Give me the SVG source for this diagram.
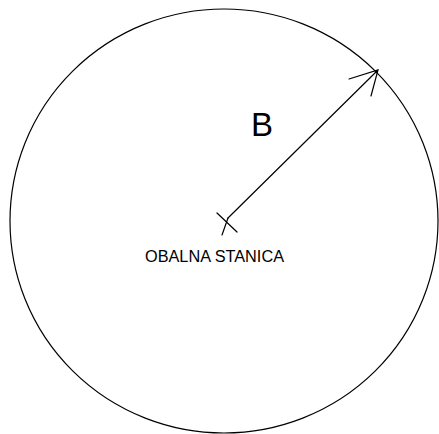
<svg xmlns="http://www.w3.org/2000/svg" width="439" height="434" viewBox="0 0 439 434">
<style>
.ln{fill:none;stroke:#000;stroke-width:1.2;stroke-linecap:round}
.t{font-family:"Liberation Sans",Arial,sans-serif;fill:#000}
</style>
<rect width="439" height="434" fill="#fff"/>
<g id="circle"><ellipse class="ln" cx="224" cy="221" rx="214" ry="212"/></g>
<g id="station">
<path class="ln" d="M217,213 L237,232 M222,235 L228,218"/>
<text class="t" x="145" y="262" font-size="16" textLength="139" lengthAdjust="spacingAndGlyphs">OBALNA STANICA</text>
</g>
<g id="connectors">
<path class="ln" d="M228,218 L378,70 M349,79 L378,70 L371,96"/>
</g>
<g id="label"><text class="t" x="251" y="136" font-size="33">B</text></g>
</svg>
